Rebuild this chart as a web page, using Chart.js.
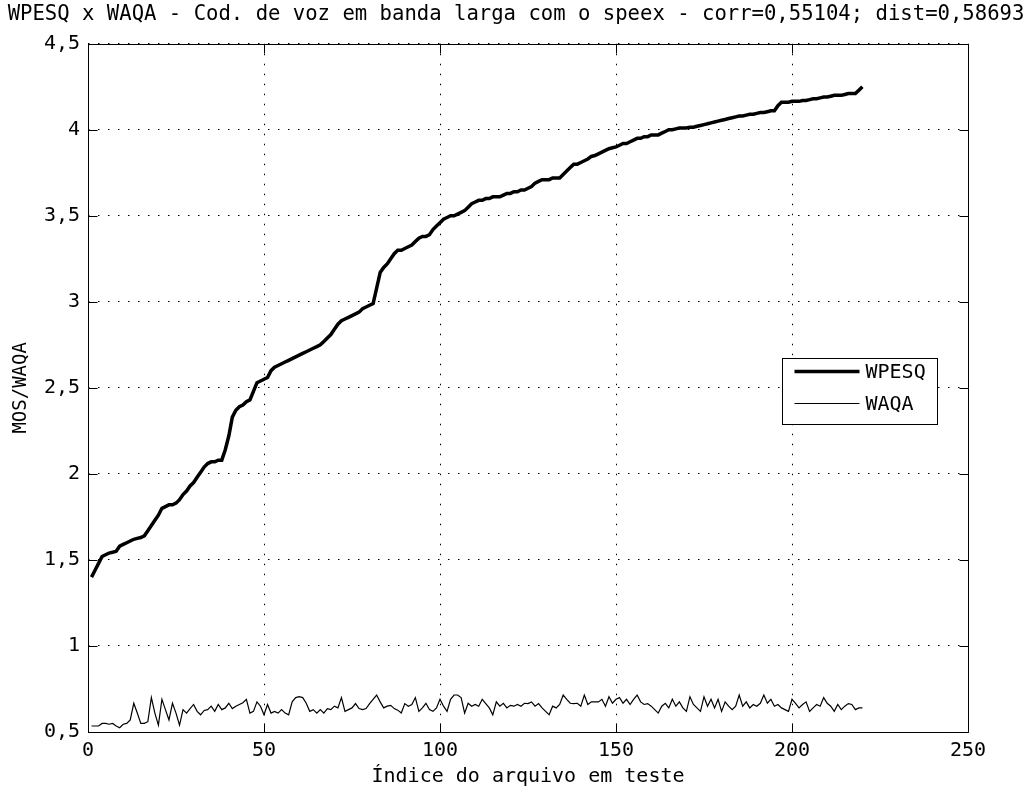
<!DOCTYPE html>
<html><head><meta charset="utf-8">
<script src="https://cdn.jsdelivr.net/npm/chart.js@4.4.1/dist/chart.umd.min.js"></script>
<style>html,body{margin:0;padding:0;background:#fff;} canvas{display:block;}</style>
</head><body>
<canvas id="c" width="1032" height="796"></canvas>
<script>
const titleText = "WPESQ x WAQA - Cod. de voz em banda larga com o speex - corr=0,55104; dist=0,58693";
const xAxisLabel = "Índice do arquivo em teste";
const yAxisLabel = "MOS/WAQA";
const seriesNames = ["WPESQ", "WAQA"];
const xTickValues = [0, 50, 100, 150, 200, 250];
const yTickValues = [0.5, 1, 1.5, 2, 2.5, 3, 3.5, 4, 4.5];

const wpesq = [
1.40,1.44,1.48,1.52,1.53,1.54,1.545,1.55,1.58,1.59,
1.60,1.61,1.62,1.625,1.63,1.64,1.67,1.70,1.73,1.76,
1.80,1.81,1.82,1.82,1.83,1.85,1.88,1.90,1.93,1.95,
1.98,2.01,2.04,2.06,2.07,2.07,2.08,2.08,2.14,2.22,
2.33,2.37,2.39,2.40,2.42,2.43,2.48,2.53,2.54,2.55,
2.56,2.60,2.62,2.63,2.64,2.65,2.66,2.67,2.68,2.69,
2.70,2.71,2.72,2.73,2.74,2.75,2.77,2.79,2.81,2.84,
2.87,2.89,2.90,2.91,2.92,2.93,2.94,2.96,2.97,2.98,
2.99,3.08,3.17,3.20,3.22,3.25,3.28,3.30,3.30,3.31,
3.32,3.33,3.35,3.37,3.38,3.38,3.39,3.42,3.44,3.46,
3.48,3.49,3.50,3.50,3.51,3.52,3.53,3.55,3.57,3.58,
3.59,3.59,3.60,3.60,3.61,3.61,3.61,3.62,3.63,3.63,
3.64,3.64,3.65,3.65,3.66,3.67,3.69,3.70,3.71,3.71,
3.71,3.72,3.72,3.72,3.74,3.76,3.78,3.80,3.80,3.81,
3.82,3.83,3.845,3.85,3.86,3.87,3.88,3.89,3.895,3.90,
3.91,3.92,3.92,3.93,3.94,3.95,3.95,3.96,3.96,3.97,
3.97,3.97,3.98,3.99,4.00,4.00,4.005,4.01,4.01,4.01,
4.015,4.015,4.02,4.025,4.03,4.035,4.04,4.045,4.05,4.055,
4.06,4.065,4.07,4.075,4.08,4.08,4.085,4.09,4.09,4.095,
4.10,4.10,4.105,4.11,4.11,4.14,4.16,4.16,4.16,4.165,
4.165,4.165,4.17,4.17,4.175,4.18,4.18,4.185,4.19,4.19,
4.195,4.20,4.20,4.20,4.205,4.21,4.21,4.21,4.23,4.25
];

const waqa = [
0.535,0.535,0.535,0.55,0.55,0.545,0.55,0.535,0.525,0.545,
0.55,0.57,0.667,0.61,0.55,0.55,0.56,0.70,0.61,0.54,
0.69,0.63,0.57,0.667,0.61,0.54,0.63,0.61,0.636,0.66,
0.62,0.60,0.625,0.63,0.65,0.62,0.66,0.63,0.64,0.667,
0.636,0.65,0.66,0.67,0.69,0.61,0.62,0.675,0.65,0.60,
0.66,0.61,0.62,0.61,0.63,0.61,0.60,0.675,0.70,0.705,
0.70,0.667,0.62,0.63,0.61,0.63,0.61,0.636,0.63,0.65,
0.64,0.70,0.62,0.63,0.64,0.665,0.636,0.63,0.636,0.665,
0.69,0.715,0.675,0.64,0.65,0.655,0.636,0.627,0.61,0.665,
0.65,0.66,0.70,0.62,0.64,0.667,0.63,0.62,0.64,0.69,
0.65,0.62,0.69,0.715,0.715,0.70,0.61,0.667,0.65,0.66,
0.65,0.69,0.665,0.64,0.60,0.675,0.65,0.667,0.64,0.655,
0.65,0.66,0.65,0.667,0.665,0.675,0.65,0.665,0.64,0.62,
0.60,0.65,0.64,0.66,0.715,0.69,0.667,0.665,0.667,0.65,
0.715,0.66,0.675,0.675,0.675,0.69,0.65,0.705,0.667,0.69,
0.70,0.667,0.69,0.66,0.69,0.715,0.675,0.66,0.665,0.65,
0.63,0.61,0.65,0.667,0.64,0.69,0.65,0.675,0.64,0.62,
0.705,0.66,0.64,0.62,0.705,0.65,0.69,0.64,0.69,0.62,
0.675,0.65,0.63,0.65,0.715,0.65,0.675,0.64,0.66,0.65,
0.667,0.715,0.667,0.69,0.65,0.66,0.64,0.63,0.62,0.69,
0.667,0.64,0.66,0.675,0.62,0.64,0.66,0.65,0.70,0.667,
0.65,0.62,0.66,0.63,0.65,0.665,0.66,0.63,0.64,0.64
];

const FONT = "'DejaVu Sans Mono', 'Liberation Mono', monospace";
const toPoints = arr => arr.map((v, i) => ({x: i + 1, y: v}));
const lineWidths = [3.5, 1.2];

const matlabAxes = {
  id: 'matlabAxes',
  afterDatasetsDraw(chart) {
    const {ctx, chartArea: a, scales: {x, y}} = chart;
    ctx.save();
    ctx.strokeStyle = '#000';
    ctx.lineWidth = 1;
    ctx.setLineDash([]);
    const L = Math.round(a.left) + 0.5, R = Math.round(a.right) + 0.5;
    const T = Math.round(a.top) + 0.5, B = Math.round(a.bottom) + 0.5;
    ctx.beginPath();
    ctx.rect(L, T, R - L, B - T);
    const tl = 9;
    xTickValues.forEach(v => {
      const px = Math.round(x.getPixelForValue(v)) + 0.5;
      ctx.moveTo(px, B); ctx.lineTo(px, B - tl);
      ctx.moveTo(px, T); ctx.lineTo(px, T + tl);
    });
    yTickValues.forEach(v => {
      const py = Math.round(y.getPixelForValue(v)) + 0.5;
      ctx.moveTo(L, py); ctx.lineTo(L + tl, py);
      ctx.moveTo(R, py); ctx.lineTo(R - tl, py);
    });
    ctx.stroke();
    ctx.restore();
  },
  afterDraw(chart) {
    const {ctx, chartArea: a} = chart;
    ctx.save();
    const bx = Math.round(a.right - 186) + 0.5, by = Math.round(a.top + 314) + 0.5;
    const bw = 155, bh = 66;
    ctx.fillStyle = '#fff';
    ctx.fillRect(bx, by, bw, bh);
    ctx.strokeStyle = '#000';
    ctx.lineWidth = 1;
    ctx.strokeRect(bx, by, bw, bh);
    ctx.font = "20px " + FONT;
    ctx.textBaseline = 'middle';
    ctx.textAlign = 'left';
    ctx.fillStyle = '#000';
    chart.data.datasets.forEach((ds, i) => {
      const ly = by + 13 + i * 32;
      ctx.beginPath();
      ctx.lineWidth = ds.borderWidth;
      ctx.moveTo(bx + 12, ly);
      ctx.lineTo(bx + 77, ly);
      ctx.stroke();
      ctx.fillText(ds.label, bx + 83, ly + 1);
    });
    ctx.restore();
  }
};

new Chart(document.getElementById('c'), {
  type: 'line',
  data: {
    datasets: [
      {label: seriesNames[0], data: toPoints(wpesq), borderColor: '#000', borderWidth: lineWidths[0], pointRadius: 0, tension: 0, fill: false},
      {label: seriesNames[1], data: toPoints(waqa), borderColor: '#000', borderWidth: lineWidths[1], pointRadius: 0, tension: 0, fill: false}
    ]
  },
  options: {
    responsive: false,
    animation: false,
    devicePixelRatio: 1,
    layout: {padding: {left: 0, right: 0, top: 0, bottom: 0}},
    plugins: {
      legend: {display: false},
      tooltip: {enabled: false},
      title: {
        display: true,
        text: titleText,
        color: '#000',
        font: {family: FONT, size: 20.6, weight: 'normal', lineHeight: 1.2},
        padding: {top: 2, bottom: 17}
      }
    },
    scales: {
      x: {
        type: 'linear',
        min: 0, max: 250,
        afterBuildTicks: s => { s.ticks = xTickValues.map(v => ({value: v})); },
        afterFit: s => { s.height = 64; },
        ticks: {color: '#000', font: {family: FONT, size: 20}, padding: 7, maxRotation: 0, autoSkip: false},
        grid: {color: '#000', lineWidth: 1, drawTicks: false},
        border: {display: false, dash: [1.5, 8.5]},
        title: {display: true, text: xAxisLabel, color: '#000', font: {family: FONT, size: 20}, padding: {top: 0, bottom: 7}}
      },
      y: {
        type: 'linear',
        min: 0.5, max: 4.5,
        afterBuildTicks: s => { s.ticks = yTickValues.map(v => ({value: v})); },
        afterFit: s => { s.width = 88; },
        ticks: {color: '#000', font: {family: FONT, size: 20}, padding: 8, autoSkip: false,
          callback: v => String(v).replace('.', ',')},
        grid: {color: '#000', lineWidth: 1, drawTicks: false},
        border: {display: false, dash: [1.5, 8.5]},
        title: {display: true, text: yAxisLabel, color: '#000', font: {family: FONT, size: 19}, padding: {top: 10, bottom: 0}}
      },
      yRight: {
        type: 'linear',
        position: 'right',
        display: true,
        afterFit: s => { s.width = 64; },
        ticks: {display: false},
        grid: {display: false, drawTicks: false},
        border: {display: false}
      }
    }
  },
  plugins: [matlabAxes]
});
</script>
</body></html>
